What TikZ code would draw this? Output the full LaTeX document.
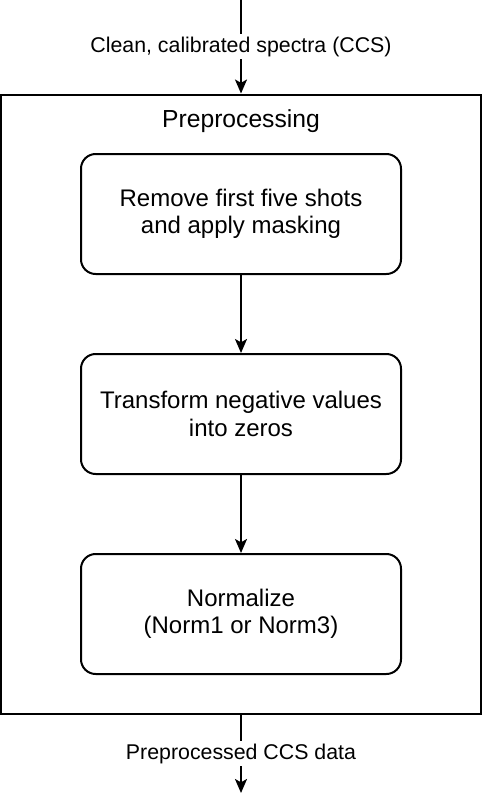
\documentclass[tikz,border=0pt]{standalone}
\usepackage{fontspec}
\setmainfont{Liberation Sans}
\usetikzlibrary{arrows.meta,positioning}
\definecolor{Ink}{HTML}{000000}
\tikzset{
  >={Stealth[length=10.5pt,width=9pt,inset=2.5pt]},
  frame/.style={draw=Ink,line width=1.5pt,inner sep=0pt},
  stepbox/.style={draw=Ink,line width=1.5pt,rounded corners=11pt,minimum width=240pt,minimum height=90pt,align=center,font=\fontsize{18}{20.5}\selectfont},
  flow/.style={->,line width=1.5pt,draw=Ink},
  lab/.style={font=\fontsize{16}{19}\selectfont,fill=white,inner sep=2pt},
  head/.style={font=\fontsize{18.5}{21}\selectfont}
}
\begin{document}
\begin{tikzpicture}[x=0.75pt,y=-0.75pt]
  \useasboundingbox (0,0) rectangle (482,793);
  \node[frame,minimum width=360pt,minimum height=464.25pt] (proc) at (241,404) {};
  \node[head] (title) at (241,121) {Preprocessing};
  \node[stepbox] (rm) at (241,214) {Remove first five shots\\and apply masking};
  \node[stepbox] (tz) at (241,414) {Transform negative values\\into zeros};
  \node[stepbox] (nrm) at (241,614) {Normalize\\(Norm1 or Norm3)};
  \coordinate (in) at (241,0);
  \coordinate (out) at (241,793);
  \draw[flow] (in) -- node[lab] {Clean, calibrated spectra (CCS)} (proc.north);
  \draw[flow] (rm) -- (tz);
  \draw[flow] (tz) -- (nrm);
  \draw[flow] (proc.south) -- node[lab] {Preprocessed CCS data} (out);
\end{tikzpicture}
\end{document}
